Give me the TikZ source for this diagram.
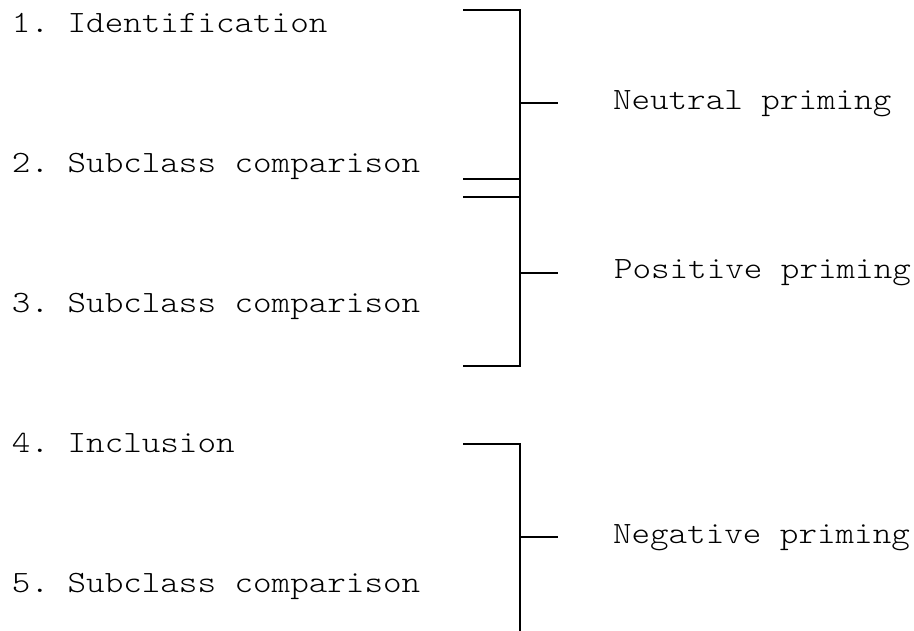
\documentclass[tikz,border=0pt]{standalone}
\usepackage{fontspec}
\setmonofont[FakeStretch=1.14]{Latin Modern Mono Light}
\begin{document}
\begin{tikzpicture}[x=1pt,y=-1pt,
    line width=2pt,
    item/.style={anchor=base west,inner sep=0pt,font=\fontsize{31}{36}\selectfont\ttfamily},
    bracketline/.style={draw=black,line cap=butt,line join=miter}]
  \useasboundingbox (0,0) rectangle (914,630);

  % task list on the left
  \node[item] (t1) at (11,32)  {1. Identification};
  \node[item] (t2) at (11,172) {2. Subclass comparison};
  \node[item] (t3) at (11,312) {3. Subclass comparison};
  \node[item] (t4) at (11,452) {4. Inclusion};
  \node[item] (t5) at (11,592) {5. Subclass comparison};

  % priming labels on the right
  \node[item] (neu) at (612,109) {Neutral priming};
  \node[item] (pos) at (613,278) {Positive priming};
  \node[item] (neg) at (612,543) {Negative priming};

  % bracket ends and ticks
  \coordinate (a1) at (463,10);   \coordinate (c1) at (520,10);
  \coordinate (a2) at (463,179);  \coordinate (c2) at (520,179);
  \coordinate (a3) at (463,197);  \coordinate (c3) at (520,197);
  \coordinate (a4) at (463,366);  \coordinate (c4) at (520,366);
  \coordinate (a5) at (463,444);  \coordinate (c5) at (520,444);
  \coordinate (c6) at (520,632);

  \coordinate (k1) at (520,103);  \coordinate (e1) at (558,103);
  \coordinate (k2) at (520,273);  \coordinate (e2) at (558,273);
  \coordinate (k3) at (520,537);  \coordinate (e3) at (558,537);

  % upper double bracket
  \draw[bracketline] (a1) -- (c1) -- (c4) -- (a4);
  \draw[bracketline] (a2) -- (c2);
  \draw[bracketline] (a3) -- (c3);
  % lower bracket, open at the bottom
  \draw[bracketline] (a5) -- (c5) -- (c6);

  % ticks towards the labels
  \draw[bracketline] (k1) -- (e1);
  \draw[bracketline] (k2) -- (e2);
  \draw[bracketline] (k3) -- (e3);
\end{tikzpicture}
\end{document}
